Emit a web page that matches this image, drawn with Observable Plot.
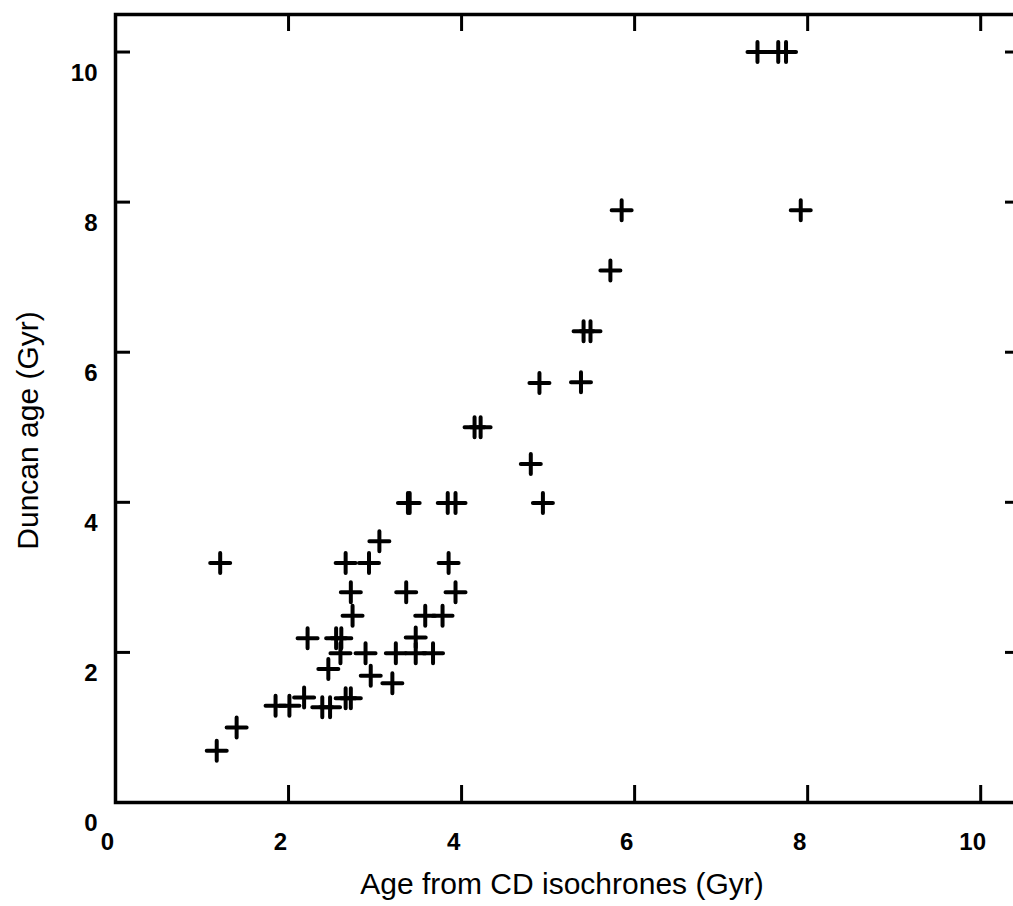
<!DOCTYPE html>
<html>
<head>
<meta charset="utf-8">
<script src="https://cdn.jsdelivr.net/npm/d3@7"></script>
<script src="https://cdn.jsdelivr.net/npm/@observablehq/plot@0.6"></script>
<style>
  html, body { margin: 0; padding: 0; background: #fff; overflow: hidden; }
  #chart svg { display: block; max-width: none !important; }
</style>
</head>
<body>
<div id="chart"></div>
<script>
// Cluster ages: isochrone fit (x) against Duncan ages (y), both in Gyr
const cdAge = [
  1.17, 1.40, 1.21, 1.85, 2.01, 2.18, 2.39, 2.48, 2.66, 2.72,
  2.22, 2.55, 2.61, 3.47, 2.60, 2.89, 3.24, 3.47, 3.67, 2.46,
  2.95, 3.20, 2.72, 3.36, 3.93, 2.74, 3.58, 3.78, 2.66, 2.93,
  3.85, 3.05, 3.38, 3.40, 3.84, 3.93, 4.94, 4.80, 4.15, 4.22,
  4.90, 5.38, 5.41, 5.49, 5.72, 5.85, 7.92, 7.42, 7.66, 7.75
];
const duncanAge = [
  0.69, 1.00, 3.19, 1.29, 1.29, 1.40, 1.27, 1.27, 1.39, 1.39,
  2.19, 2.19, 2.19, 2.20, 1.99, 1.99, 1.99, 1.99, 1.99, 1.78,
  1.69, 1.59, 2.80, 2.80, 2.80, 2.49, 2.49, 2.49, 3.19, 3.19,
  3.19, 3.48, 3.99, 3.99, 3.99, 3.99, 3.99, 4.51, 5.00, 5.00,
  5.59, 5.60, 6.28, 6.28, 7.09, 7.89, 7.89, 10.0, 10.0, 10.0
];
const xTicks = [0, 2, 4, 6, 8, 10];
const yTicks = [0, 2, 4, 6, 8, 10];
const xLabel = "Age from CD isochrones (Gyr)";
const yLabel = "Duncan age (Gyr)";

const points = cdAge.map((x, i) => ({x, y: duncanAge[i]}));

// Open line cross, like a "+" plotting symbol
const cross = {
  draw(context, size) {
    const r = Math.sqrt(size / Math.PI);
    context.moveTo(-r, 0); context.lineTo(r, 0);
    context.moveTo(0, -r); context.lineTo(0, r);
  }
};

const width = 1030, height = 906;
const mL = 115, mR = 10, mT = 14, mB = 104;
const frameW = width - mL - mR, frameH = height - mT - mB;
const yTickLen = 15, xTickLen = 17;
const tickFont = {fontSize: 24, fontWeight: "bold", fontFamily: "Liberation Sans"};

const chart = Plot.plot({
  width, height,
  marginLeft: mL, marginRight: mR, marginTop: mT, marginBottom: mB,
  style: {background: "#fff", color: "#000", fontFamily: "Liberation Sans", maxWidth: "none"},
  x: {domain: [0, 10.46]},
  y: {domain: [0, 10.5]},
  marks: [
    Plot.frame({stroke: "#000", strokeWidth: 3.5}),
    // inward tick marks on all four sides
    Plot.tickY(yTicks, {y: d => d, insetRight: frameW - yTickLen, stroke: "#000", strokeWidth: 3}),
    Plot.tickY(yTicks, {y: d => d, insetLeft: frameW - yTickLen, stroke: "#000", strokeWidth: 3}),
    Plot.tickX(xTicks, {x: d => d, insetTop: frameH - xTickLen, stroke: "#000", strokeWidth: 3}),
    Plot.tickX(xTicks, {x: d => d, insetBottom: frameH - xTickLen, stroke: "#000", strokeWidth: 3}),
    Plot.axisX({ticks: xTicks, tickSize: 0, tickPadding: 30, dx: -8, label: null, tickFormat: d => String(d), ...tickFont}),
    Plot.axisY({ticks: yTicks, tickSize: 0, tickPadding: 18, dy: 21, label: null, tickFormat: d => String(d), ...tickFont}),
    Plot.text([xLabel], {text: d => d, frameAnchor: "bottom", textAnchor: "middle", lineAnchor: "bottom", dx: -6, dy: 91, fontSize: 30, fill: "#000"}),
    Plot.text([yLabel], {text: d => d, frameAnchor: "left", textAnchor: "middle", lineAnchor: "bottom", rotate: -90, dx: -78, dy: 22, fontSize: 30, fill: "#000"}),
    Plot.dot(points, {x: "x", y: "y", symbol: cross, r: 10, fill: "none", stroke: "#000", strokeWidth: 4, strokeLinecap: "round"})
  ]
});

document.getElementById("chart").appendChild(chart);
</script>
</body>
</html>
